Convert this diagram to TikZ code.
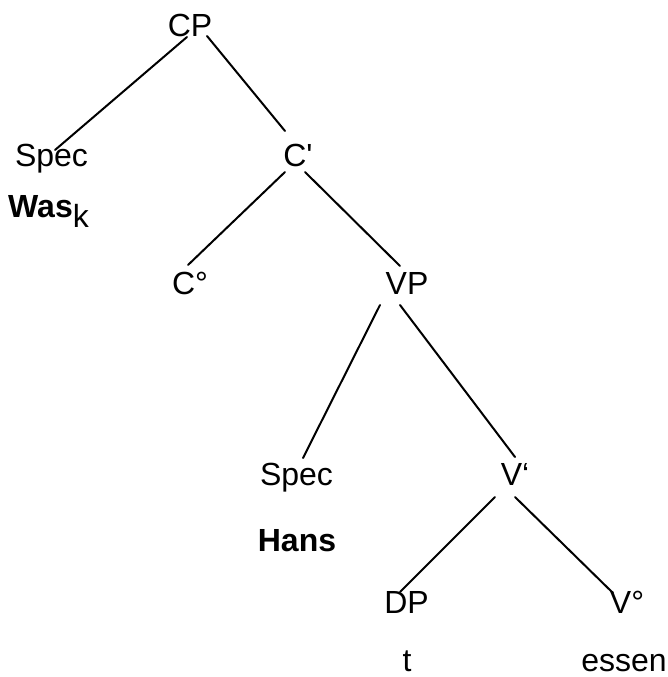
\documentclass[tikz,border=0pt]{standalone}
\usepackage{fontspec}
\setmainfont{Liberation Sans}
\begin{document}
\begin{tikzpicture}[x=1pt,y=-1pt,
  lbl/.style={inner sep=0pt,anchor=base,font=\fontsize{32}{32}\selectfont},
  edge/.style={line width=2pt,line cap=round}]
\useasboundingbox (0,0) rectangle (668,677);
\node[lbl] (CP) at (190,37) {CP};
\node[lbl] (Spec1) at (51.5,166) {Spec};
\node[lbl] (Cbar) at (298,166) {C\textquotesingle};
\node[lbl,anchor=base west] (Was) at (8,217) {\textbf{Was}\raisebox{-10pt}{k}};
\node[lbl] (C0) at (190,294) {C°};
\node[lbl] (VP) at (407,294) {VP};
\node[lbl] (Spec2) at (296.5,485) {Spec};
\node[lbl] (Vbar) at (515,485) {V‘};
\node[lbl] (Hans) at (297,551) {\textbf{Hans}};
\node[lbl] (DP) at (406.5,613) {DP};
\node[lbl] (V0) at (627,613) {V°};
\node[lbl,text depth=0pt] (t) at (407,671) {t};
\node[lbl,text depth=0pt] (essen) at (624,671) {essen};
\draw[edge] ([xshift=-3pt]CP.base) -- ([xshift=3.5pt,yshift=16pt]Spec1.base);
\draw[edge] ([xshift=17pt,yshift=1pt]CP.base) -- ([xshift=-13pt,yshift=35pt]Cbar.base);
\draw[edge] ([xshift=-13pt,yshift=-6pt]Cbar.base) -- ([xshift=-2pt,yshift=29pt]C0.base);
\draw[edge] ([xshift=7pt,yshift=-6pt]Cbar.base) -- ([xshift=-7pt,yshift=28pt]VP.base);
\draw[edge] ([xshift=-27pt,yshift=-11pt]VP.base) -- ([xshift=6.5pt,yshift=27pt]Spec2.base);
\draw[edge] ([xshift=-7pt,yshift=-11pt]VP.base) -- ([yshift=28pt]Vbar.base);
\draw[edge] ([xshift=-20pt,yshift=-12pt]Vbar.base) -- ([xshift=-6.5pt,yshift=21pt]DP.base);
\draw[edge] ([yshift=-12pt]Vbar.base) -- ([xshift=-14pt,yshift=20pt]V0.base);
\end{tikzpicture}
\end{document}
